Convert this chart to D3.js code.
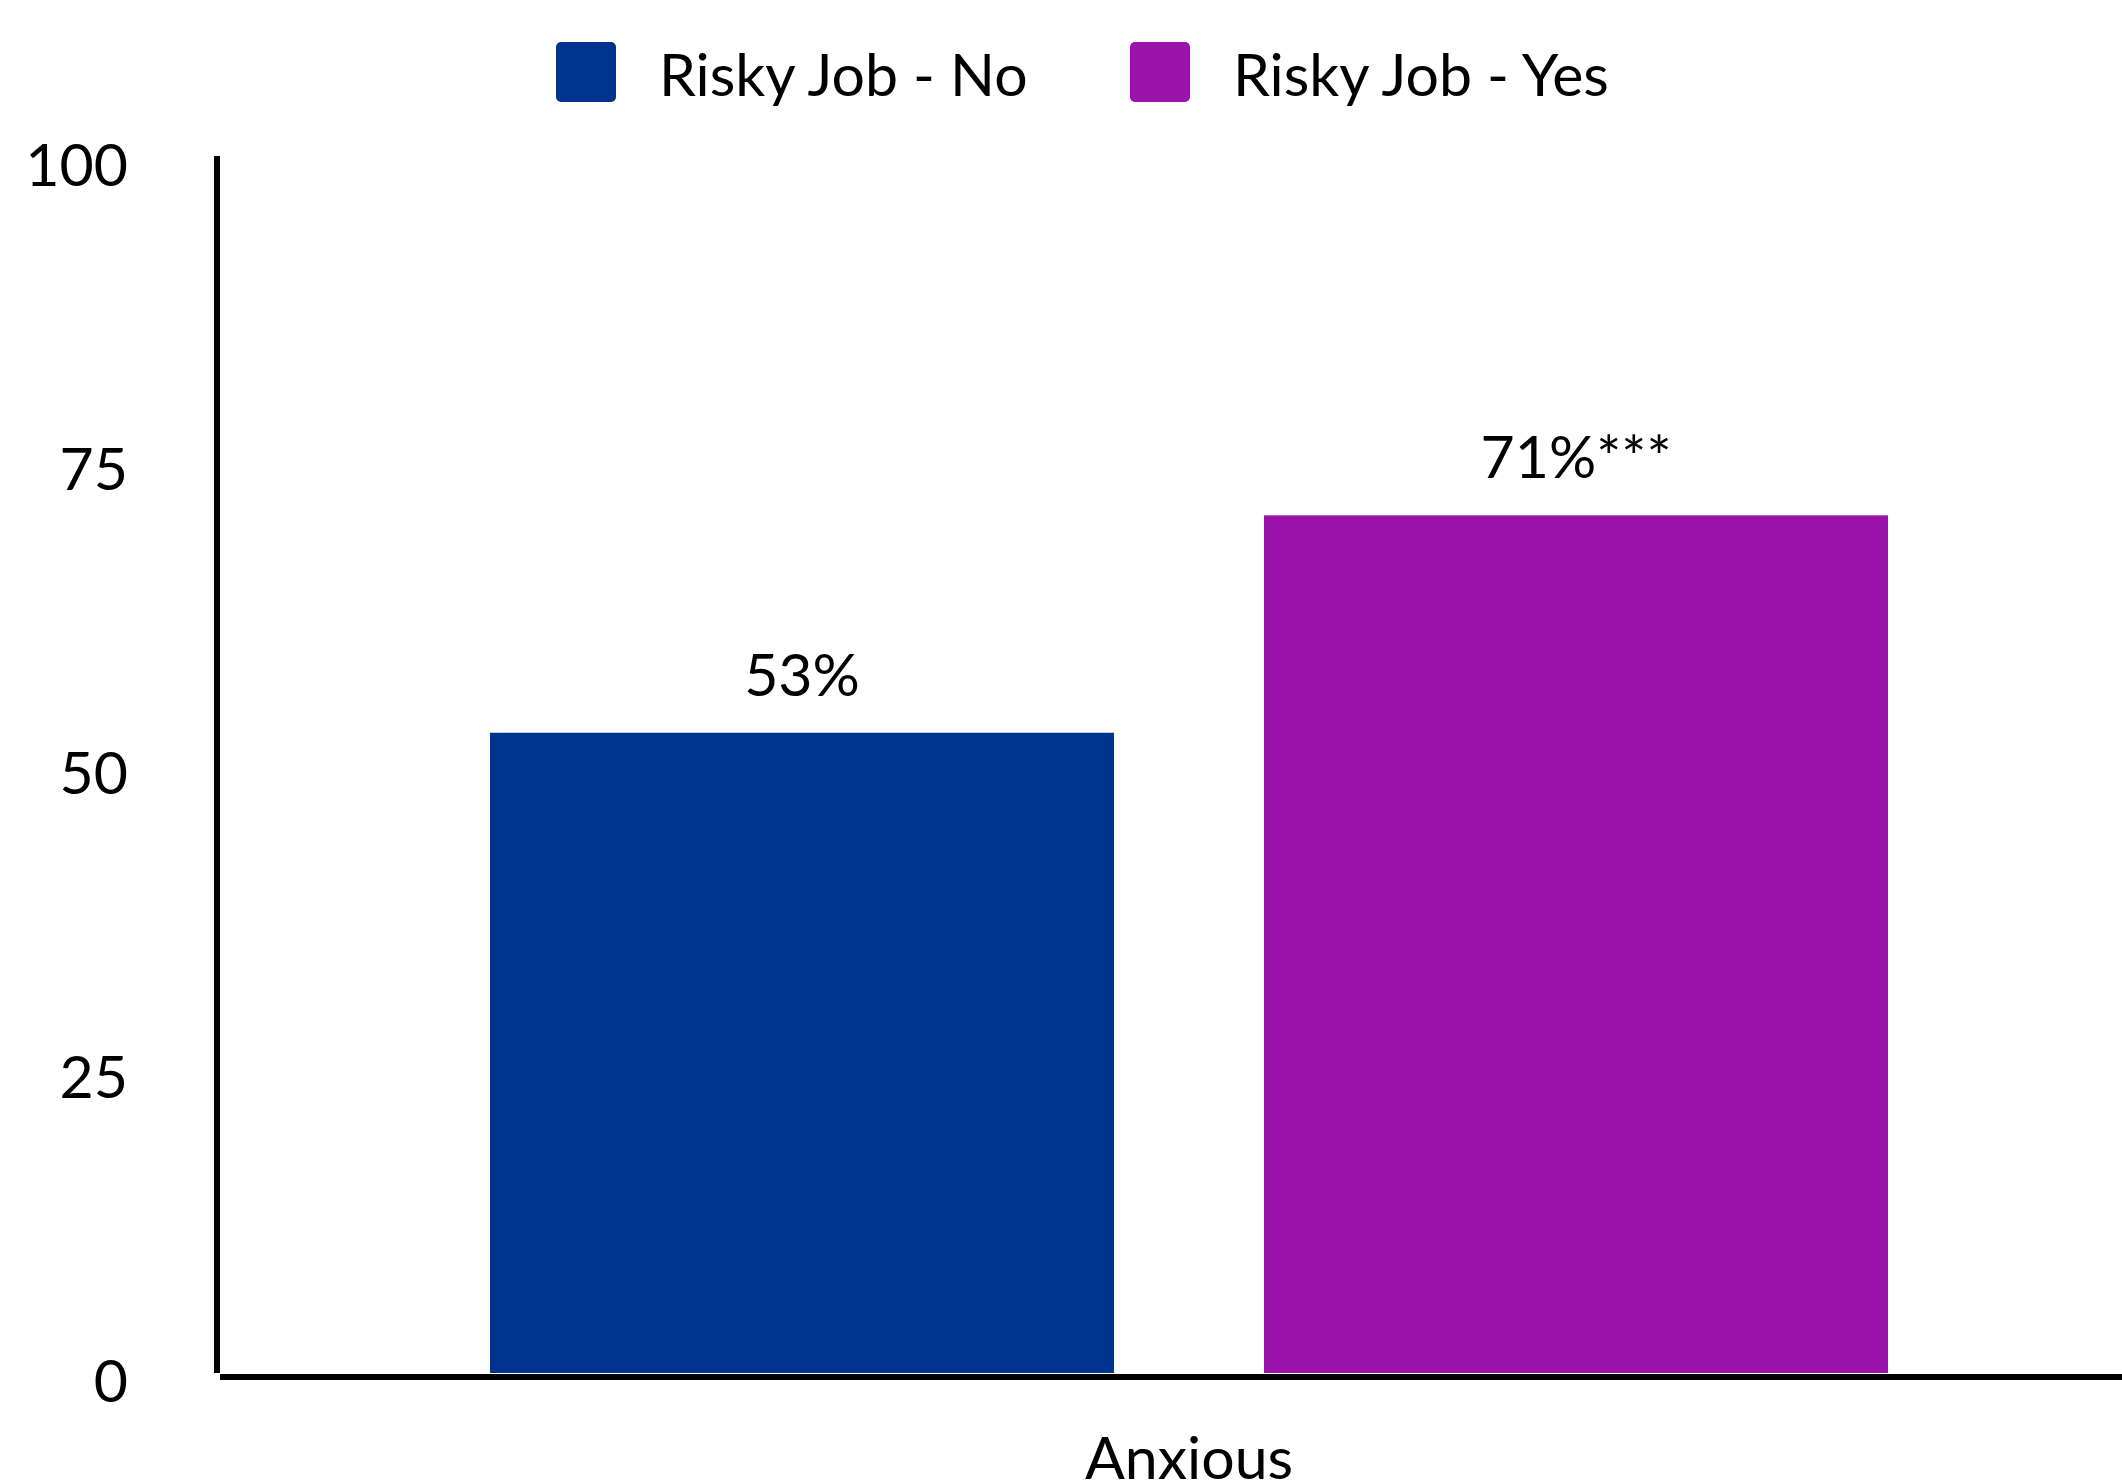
<!DOCTYPE html>
<html>
<head>
<meta charset="utf-8">
<script src="https://cdn.jsdelivr.net/npm/d3@7"></script>
<style>
  html, body { margin: 0; padding: 0; background: #fff; }
  svg { display: block; }
  text { font-family: Lato, "Open Sans", sans-serif; fill: #000; }
</style>
</head>
<body>
<script>
const categories = ["Anxious"];
const seriesNames = ["Risky Job - No", "Risky Job - Yes"];
const seriesNo = [53];
const seriesYes = [71];
const valueLabels = [["53%"], ["71%***"]];
const yTicks = [0, 25, 50, 75, 100];
const colors = ["#00338E", "#9B12AB"];

const W = 2122, H = 1483;
const FS = 59;
const svg = d3.select("body").append("svg").attr("width", W).attr("height", H);

const y = d3.scaleLinear().domain([0, 100]).range([1373, 165]);
// tick labels sit slightly lower toward the bottom in the reference
const yLabel = d3.scaleLinear().domain([0, 100]).range([1380, 164]);
const x0 = d3.scaleBand().domain(categories).range([256, 2122]).paddingInner(0).paddingOuter(0.1674);
const x1 = d3.scaleBand().domain(seriesNames).range([0, x0.bandwidth()]).paddingInner(0.1938).paddingOuter(0);

const seriesVals = [seriesNo, seriesYes];

// bars
categories.forEach((cat, ci) => {
  seriesNames.forEach((s, si) => {
    const v = seriesVals[si][ci];
    const bx = x0(cat) + x1(s);
    svg.append("rect")
      .attr("x", bx)
      .attr("y", y(v))
      .attr("width", x1.bandwidth())
      .attr("height", y(0) - y(v))
      .attr("fill", colors[si]);
    svg.append("text")
      .attr("x", bx + x1.bandwidth() / 2)
      .attr("y", y(v) - 37)
      .attr("text-anchor", "middle")
      .attr("font-size", FS)
      .text(valueLabels[si][ci]);
  });
});

// y axis
const yAxis = d3.axisLeft(yLabel).tickValues(yTicks).tickSize(0).tickPadding(0);
const gy = svg.append("g").attr("transform", "translate(128,0)").call(yAxis);
gy.select(".domain").remove();
gy.selectAll("text")
  .attr("font-size", FS)
  .attr("font-family", "Lato, sans-serif")
  .attr("fill", "#000")
  .attr("dy", "0.36em");

svg.append("line")
  .attr("x1", 217).attr("x2", 217)
  .attr("y1", 156).attr("y2", y(0))
  .attr("stroke", "#000").attr("stroke-width", 6);

// x axis
const xAxis = d3.axisBottom(x0).tickSize(0).tickPadding(0);
const gx = svg.append("g").attr("transform", `translate(0,${y(0)})`).call(xAxis);
gx.select(".domain").remove();
gx.selectAll("text")
  .attr("font-size", FS)
  .attr("font-family", "Lato, sans-serif")
  .attr("fill", "#000")
  .attr("y", 106)
  .attr("dy", 0);

svg.append("line")
  .attr("x1", 220).attr("x2", W)
  .attr("y1", y(0) + 4).attr("y2", y(0) + 4)
  .attr("stroke", "#000").attr("stroke-width", 6);

// legend
const legendX = [556, 1130];
seriesNames.forEach((s, i) => {
  const g = svg.append("g").attr("transform", `translate(${legendX[i]},42)`);
  g.append("rect").attr("width", 60).attr("height", 60).attr("rx", 5).attr("fill", colors[i]);
  g.append("text").attr("x", 103).attr("y", 54).attr("font-size", FS).text(s);
});
</script>
</body>
</html>
